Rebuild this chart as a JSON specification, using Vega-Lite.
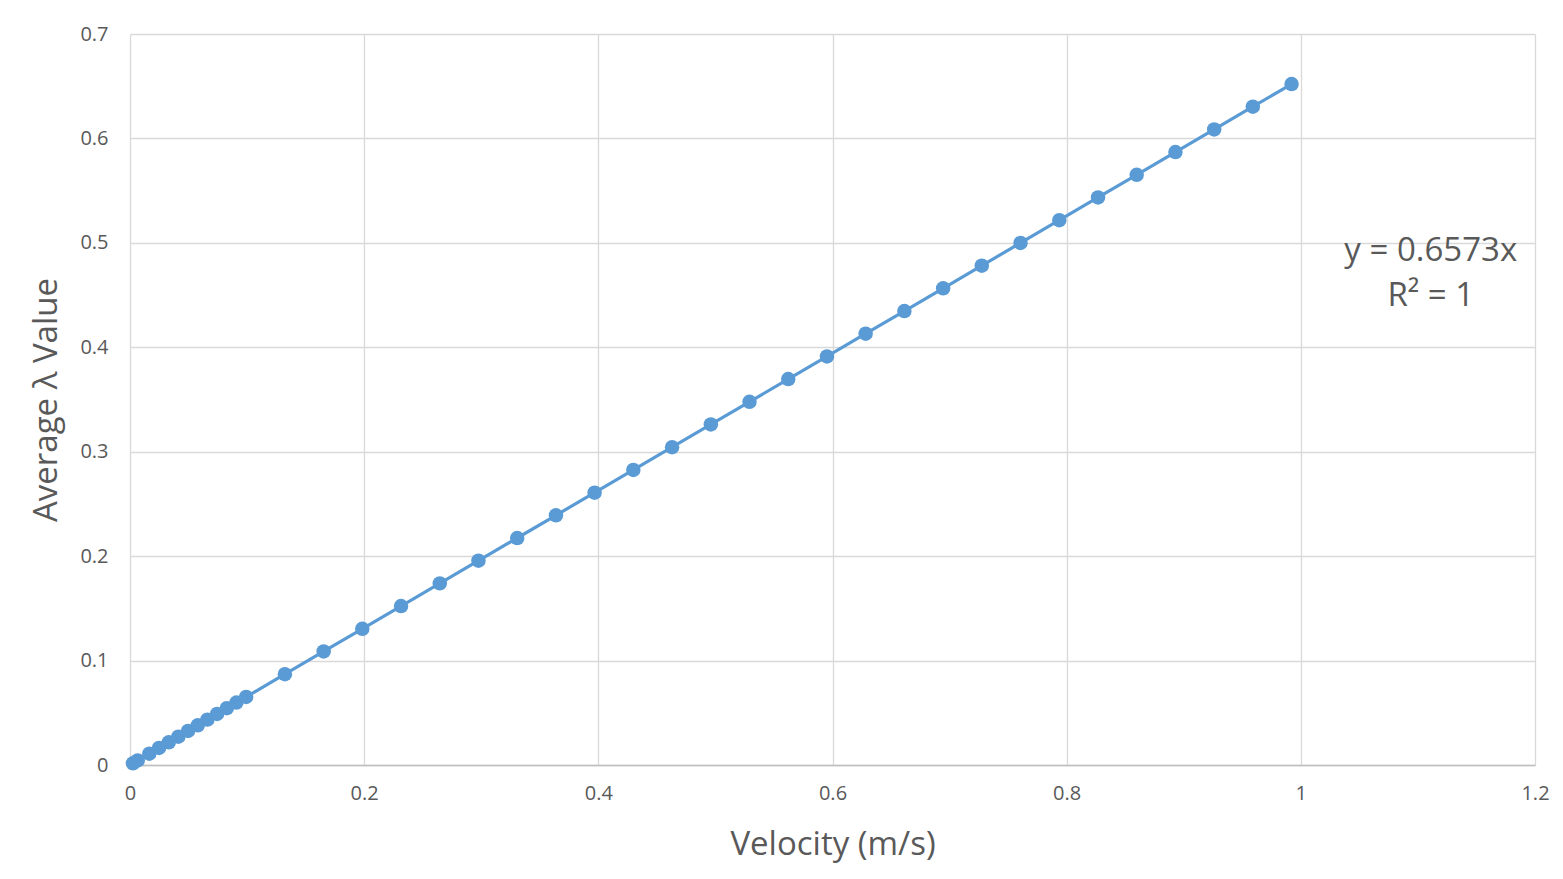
{
  "$schema": "https://vega.github.io/schema/vega-lite/v6.json",
  "width": 1405,
  "height": 731,
  "autosize": {"type": "none"},
  "padding": {"left": 130, "top": 34, "right": 28, "bottom": 114},
  "background": "white",
  "config": {
    "font": "Open Sans",
    "view": {"stroke": null},
    "axis": {
      "labelFont": "Open Sans",
      "titleFont": "Open Sans",
      "labelColor": "#595959",
      "titleColor": "#595959",
      "labelFontSize": 20,
      "titleFontSize": 33,
      "titleFontWeight": "normal",
      "gridColor": "#D9D9D9",
      "gridWidth": 1.3,
      "ticks": false,
      "labelFlush": false
    }
  },
  "datasets": {
    "points": [
      {"v": 0.0025, "l": 0.00164},
      {"v": 0.0066, "l": 0.00434},
      {"v": 0.0165, "l": 0.01085},
      {"v": 0.0248, "l": 0.0163},
      {"v": 0.0331, "l": 0.02176},
      {"v": 0.0413, "l": 0.02715},
      {"v": 0.0496, "l": 0.0326},
      {"v": 0.0579, "l": 0.03806},
      {"v": 0.0661, "l": 0.04345},
      {"v": 0.0744, "l": 0.0489},
      {"v": 0.0827, "l": 0.05436},
      {"v": 0.0909, "l": 0.05975},
      {"v": 0.0992, "l": 0.0652},
      {"v": 0.1323, "l": 0.08696},
      {"v": 0.1654, "l": 0.10872},
      {"v": 0.1984, "l": 0.13041},
      {"v": 0.2315, "l": 0.15216},
      {"v": 0.2646, "l": 0.17392},
      {"v": 0.2976, "l": 0.19561},
      {"v": 0.3307, "l": 0.21737},
      {"v": 0.3638, "l": 0.23913},
      {"v": 0.3968, "l": 0.26082},
      {"v": 0.4299, "l": 0.28257},
      {"v": 0.463, "l": 0.30433},
      {"v": 0.4961, "l": 0.32609},
      {"v": 0.5291, "l": 0.34778},
      {"v": 0.5622, "l": 0.36953},
      {"v": 0.5953, "l": 0.39129},
      {"v": 0.6283, "l": 0.41298},
      {"v": 0.6614, "l": 0.43474},
      {"v": 0.6945, "l": 0.4565},
      {"v": 0.7275, "l": 0.47819},
      {"v": 0.7606, "l": 0.49994},
      {"v": 0.7937, "l": 0.5217},
      {"v": 0.8268, "l": 0.54346},
      {"v": 0.8598, "l": 0.56515},
      {"v": 0.8929, "l": 0.5869},
      {"v": 0.926, "l": 0.60866},
      {"v": 0.959, "l": 0.63035},
      {"v": 0.9921, "l": 0.65211}
    ],
    "notes": [
      {"v": 1.111, "l": 0.492, "text": "y = 0.6573x"},
      {"v": 1.111, "l": 0.449, "text": "R² = 1"}
    ]
  },
  "layer": [
    {
      "data": {"name": "points"},
      "mark": {"type": "line", "color": "#5B9BD5", "strokeWidth": 3.2},
      "encoding": {
        "x": {
          "field": "v", "type": "quantitative",
          "scale": {"domain": [0, 1.2], "nice": false},
          "axis": {
            "title": "Velocity (m/s)",
            "values": [0, 0.2, 0.4, 0.6, 0.8, 1, 1.2],
            "format": "~g",
            "domain": true,
            "domainColor": "#BFBFBF",
            "domainWidth": 1.3,
            "labelPadding": 18,
            "titlePadding": 25
          }
        },
        "y": {
          "field": "l", "type": "quantitative",
          "scale": {"domain": [0, 0.7], "nice": false},
          "axis": {
            "title": "Average λ Value",
            "values": [0, 0.1, 0.2, 0.3, 0.4, 0.5, 0.6, 0.7],
            "format": "~g",
            "domain": false,
            "labelPadding": 22,
            "titlePadding": 16
          }
        }
      }
    },
    {
      "data": {"name": "points"},
      "mark": {"type": "point", "filled": true, "shape": "circle", "color": "#5B9BD5", "opacity": 1, "size": 210},
      "encoding": {
        "x": {"field": "v", "type": "quantitative"},
        "y": {"field": "l", "type": "quantitative"}
      }
    },
    {
      "data": {"name": "notes"},
      "mark": {"type": "text", "font": "Open Sans", "fontSize": 33, "color": "#595959", "align": "center", "baseline": "middle"},
      "encoding": {
        "x": {"field": "v", "type": "quantitative"},
        "y": {"field": "l", "type": "quantitative"},
        "text": {"field": "text"}
      }
    }
  ]
}
